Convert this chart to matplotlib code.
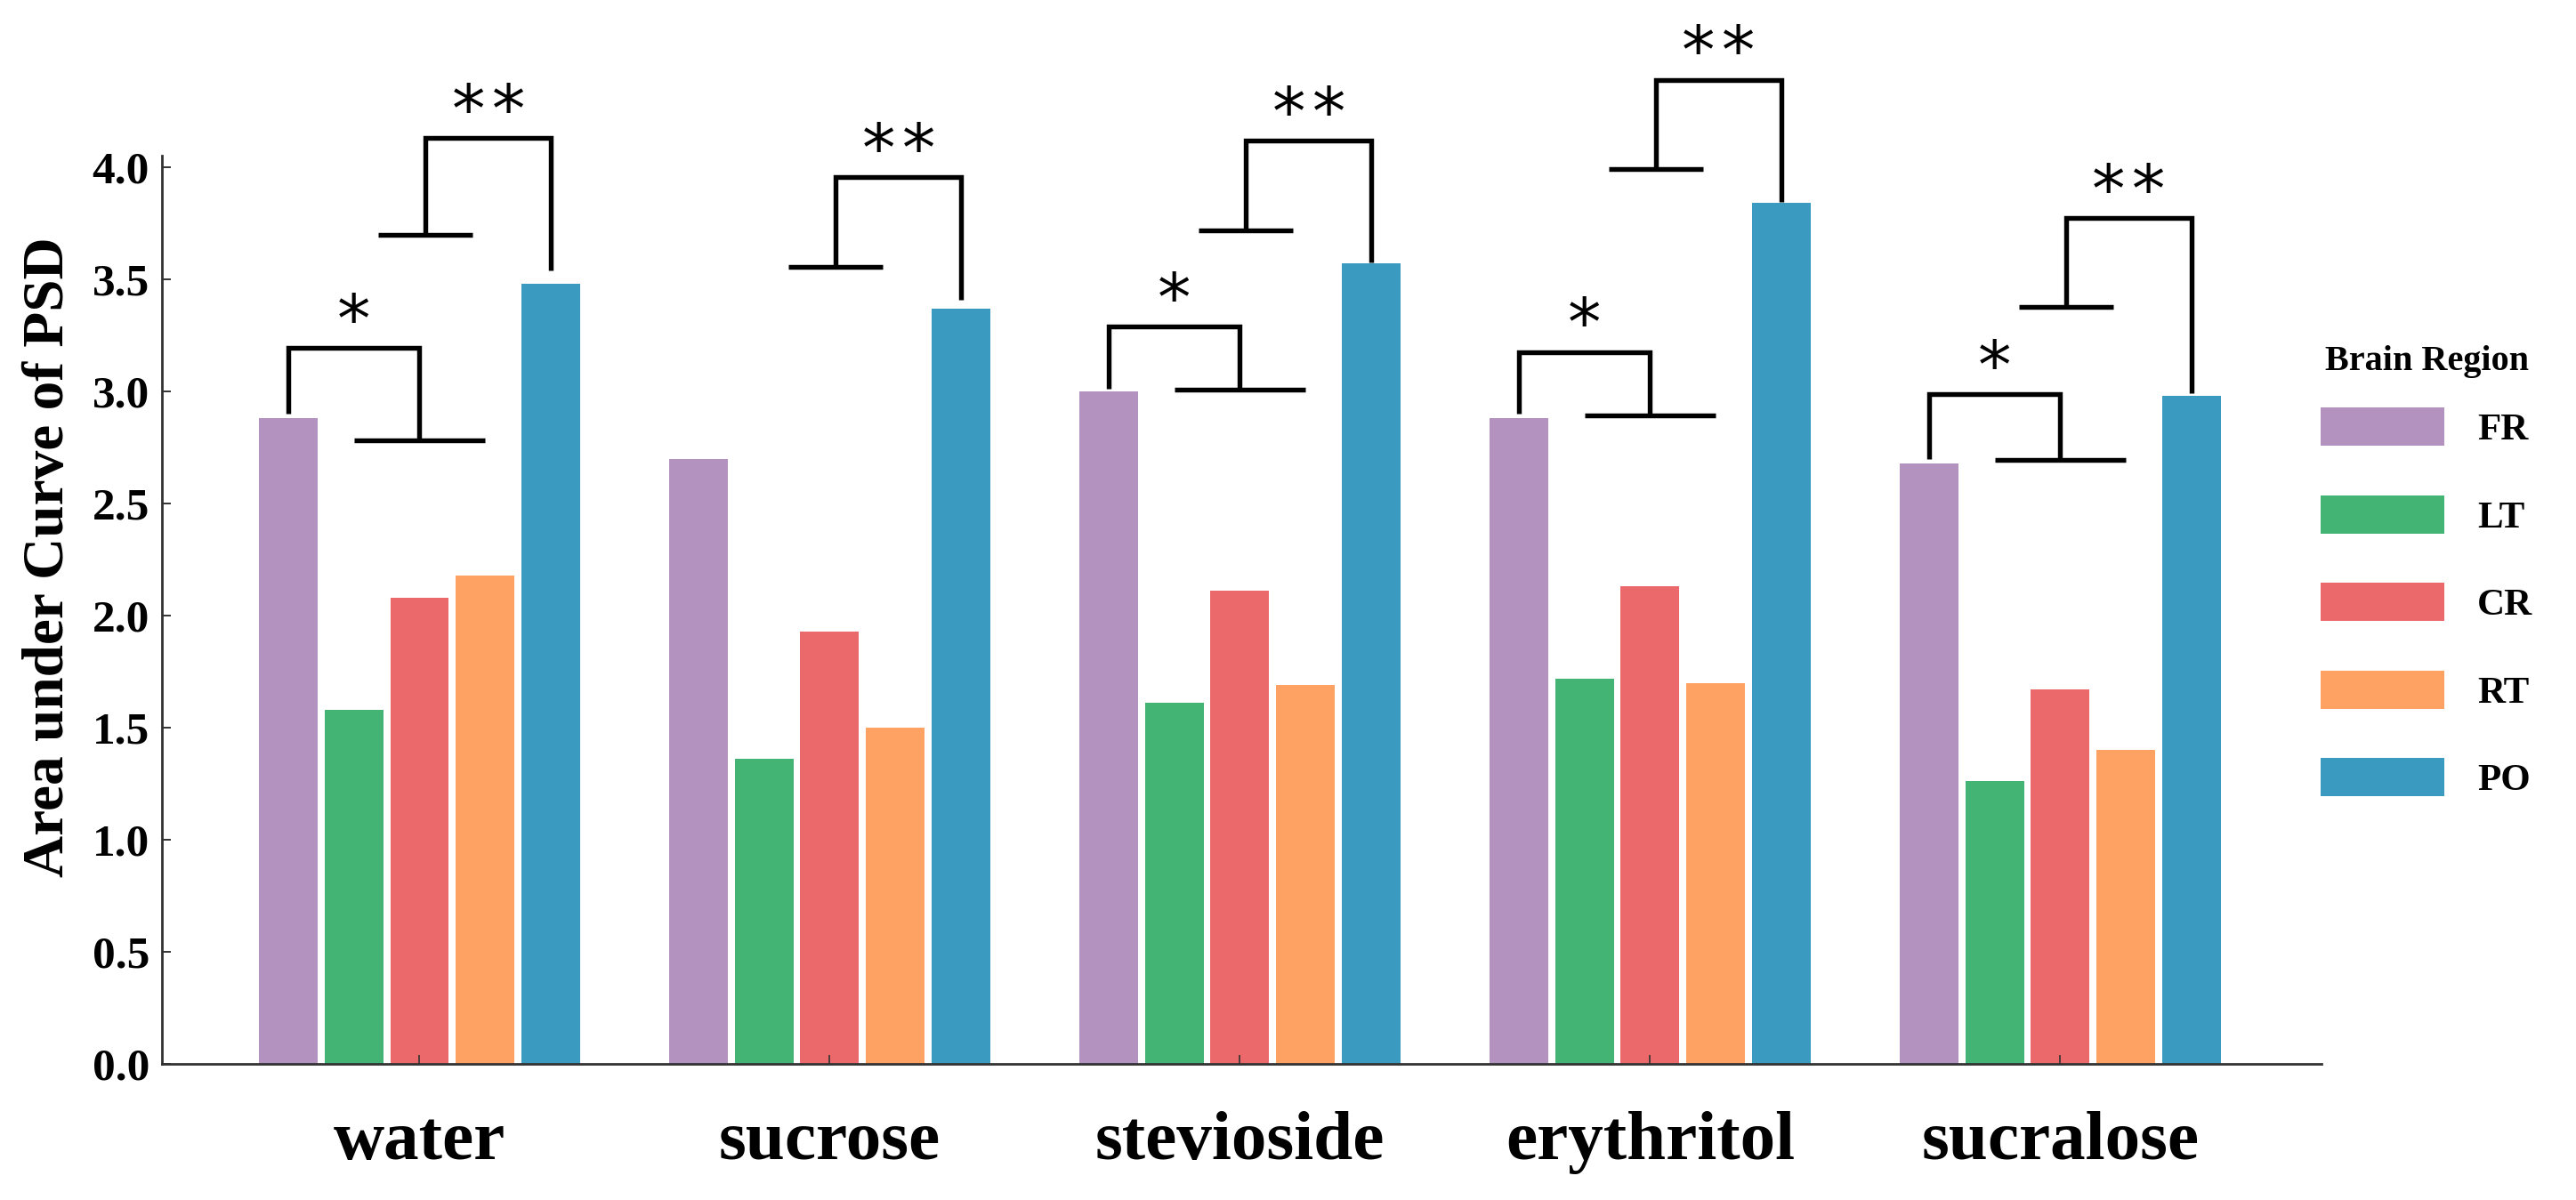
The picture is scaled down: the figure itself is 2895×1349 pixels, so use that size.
import matplotlib
matplotlib.use('Agg')
import matplotlib.pyplot as plt
import numpy as np

# ---------------- data ----------------
categories = ['water', 'sucrose', 'stevioside', 'erythritol', 'sucralose']
regions = ['FR', 'LT', 'CR', 'RT', 'PO']
FR = [2.88, 2.70, 3.00, 2.88, 2.68]
LT = [1.58, 1.36, 1.61, 1.72, 1.26]
CR = [2.08, 1.93, 2.11, 2.13, 1.67]
RT = [2.18, 1.50, 1.69, 1.70, 1.40]
PO = [3.48, 3.37, 3.57, 3.84, 2.98]
colors = ['#B392C0', '#44B474', '#EC696B', '#FDA263', '#3A9ABF']

# single-star bracket (FR vs LT/CR/RT): leg bottom, bracket top, tee level (None = absent)
star1_leg = [2.90, None, 3.013, 2.90, 2.70]
star1_top = [3.195, None, 3.288, 3.176, 2.987]
star1_tee = [2.78, None, 3.007, 2.894, 2.696]
star1_label = ['*', None, '*', '*', '*']
# double-star bracket (group vs PO): tee level, bracket top, PO leg bottom
star2_tee = [3.70, 3.556, 3.718, 3.992, 3.377]
star2_top = [4.13, 3.955, 4.118, 4.39, 3.774]
star2_leg = [3.54, 3.41, 3.575, 3.846, 2.993]
star2_label = ['**', '**', '**', '**', '**']

yticks = [0.0, 0.5, 1.0, 1.5, 2.0, 2.5, 3.0, 3.5, 4.0]
ylabel = 'Area under Curve of PSD'
legend_title = 'Brain Region'

# ---------------- style ----------------
plt.rcParams['font.family'] = ['Liberation Serif', 'DejaVu Serif']
plt.rcParams['font.weight'] = 'bold'

W, H = 2895, 1349
fig = plt.figure(figsize=(W / 100, H / 100), dpi=100)
ax = fig.add_axes([182 / W, 153 / H, 2427 / W, 1020.6 / H])

x = np.arange(len(categories))
pitch = 0.16
width = 0.143
series = [FR, LT, CR, RT, PO]
for i, (name, vals, c) in enumerate(zip(regions, series, colors)):
    ax.bar(x + (i - 2) * pitch, vals, width=width, color=c, label=name,
           linewidth=0)

ax.set_xlim(-0.628, 4.637)
ax.set_ylim(0, 4.05)

# brackets
lw = 3.9
kw = dict(color='black', lw=lw, clip_on=False, solid_joinstyle='miter',
          solid_capstyle='butt', zorder=5)
star_kw = dict(ha='center', va='baseline', fontsize=54, color='black',
               family='DejaVu Sans', fontweight='normal',
               textcoords='offset points', annotation_clip=False)
for g in range(len(categories)):
    c = x[g]
    if star1_top[g] is not None:
        xf = c - 2 * pitch
        ax.plot([xf, xf, c, c], [star1_leg[g], star1_top[g], star1_top[g], star1_tee[g]], **kw)
        ax.plot([c - pitch, c + pitch], [star1_tee[g], star1_tee[g]], **kw)
        ax.annotate(star1_label[g], xy=(c - pitch, star1_top[g] + 0.2),
                    xytext=(0, -31), **star_kw)
    xv = c + 0.015
    xp = c + 2 * pitch
    ax.plot([xv - 0.115, xv + 0.115], [star2_tee[g], star2_tee[g]], **kw)
    ax.plot([xv, xv, xp, xp], [star2_tee[g], star2_top[g], star2_top[g], star2_leg[g]], **kw)
    ax.annotate('\u200a'.join(star2_label[g]), xy=((xv + xp) / 2, star2_top[g] + 0.2),
                xytext=(0, -31), **star_kw)

# axes styling
for s in ['top', 'right']:
    ax.spines[s].set_visible(False)
for s in ['left', 'bottom']:
    ax.spines[s].set_linewidth(2.0)
    ax.spines[s].set_color('#333333')

ax.set_yticks(yticks)
ax.set_yticklabels([f'{v:.1f}' for v in yticks])
ax.set_xticks(x)
ax.set_xticklabels(categories)
ax.tick_params(axis='y', direction='in', length=7.2, width=1.4, pad=10,
               labelsize=37, color='#333333')
ax.tick_params(axis='x', direction='in', length=7.5, width=1.2, pad=38,
               labelsize=57, color='#333333')

ax.set_ylabel(ylabel, fontsize=47, fontweight='bold')
ax.yaxis.set_label_coords(-0.04, 0.558)

leg = ax.legend(title=legend_title, loc='upper left',
                bbox_to_anchor=(2608 / W, 1 - 388 / H),
                bbox_transform=fig.transFigure, frameon=False,
                prop=dict(family='Liberation Serif', weight='bold', size=31),
                title_fontproperties=dict(family='Liberation Serif', weight='bold', size=29),
                handlelength=3.23, handleheight=1.16, handletextpad=0.86,
                labelspacing=1.24, borderpad=0, borderaxespad=0)
try:
    leg._legend_box.sep = 24
except Exception:
    pass

fig.savefig('out.png', dpi=100, facecolor='white')
